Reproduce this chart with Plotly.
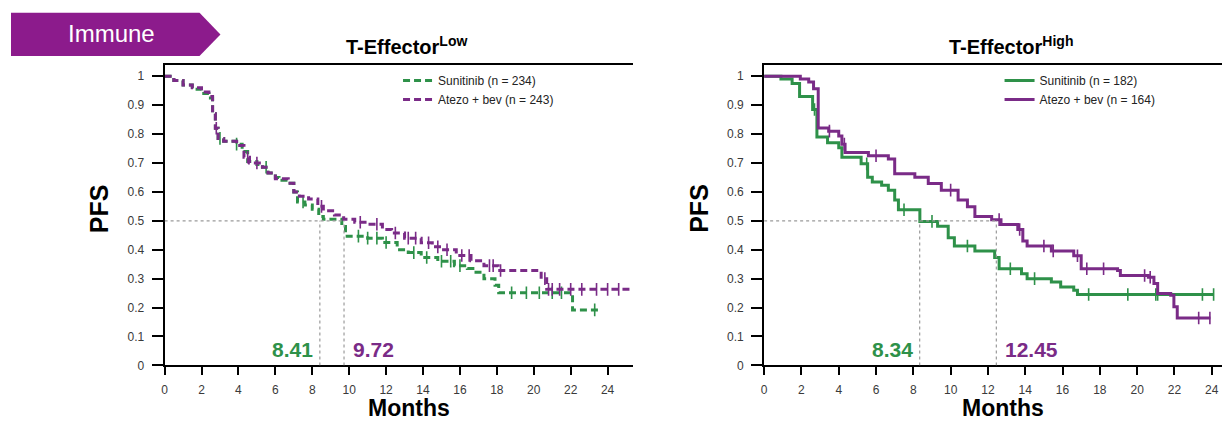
import numpy as np
import plotly.graph_objects as go

W, H = 1227, 427

# ---------------- data: T-Effector Low (left) ----------------
low_suni_t = [0, 0.5, 1.0, 1.5, 2.0, 2.4, 2.6, 2.75, 2.9, 3.2, 3.9, 4.2, 4.5, 5.0, 5.3, 5.6, 6.0,
              6.2, 6.7, 7.0, 7.2, 7.6, 8.0, 8.35, 8.6, 9.6, 9.8, 11.0, 11.8, 12.6, 13.2, 13.9,
              14.8, 15.7, 16.4, 16.7, 17.3, 17.9, 18.1, 22.1, 23.6]
low_suni_s = [1.0, 0.985, 0.97, 0.955, 0.94, 0.925, 0.87, 0.82, 0.785, 0.775, 0.765, 0.74, 0.705,
              0.695, 0.685, 0.665, 0.65, 0.64, 0.63, 0.60, 0.565, 0.555, 0.54, 0.515, 0.505, 0.48,
              0.447, 0.44, 0.425, 0.40, 0.39, 0.373, 0.36, 0.345, 0.335, 0.322, 0.30, 0.277, 0.251,
              0.192, 0.192]
low_suni_cens = [3.0, 3.9, 5.5, 7.5, 10.5, 11.0, 11.5, 12.0, 13.5, 14.2, 15.0, 15.5, 16.0, 18.8,
                 19.6, 20.3, 21.0, 21.5, 23.3]

low_atezo_t = [0, 0.5, 1.0, 1.5, 2.0, 2.4, 2.6, 2.75, 2.9, 3.2, 3.9, 4.3, 4.6, 5.3, 5.6, 6.0, 6.7,
               7.0, 7.3, 7.8, 8.3, 8.6, 9.2, 9.7, 10.3, 11.0, 11.8, 12.3, 13.0, 13.9, 14.5, 15.0,
               15.8, 16.6, 17.3, 18.07, 20.4, 20.7, 25.25]
low_atezo_s = [1.0, 0.985, 0.97, 0.96, 0.945, 0.93, 0.87, 0.82, 0.785, 0.775, 0.76, 0.72, 0.70,
               0.685, 0.665, 0.645, 0.63, 0.60, 0.585, 0.575, 0.55, 0.535, 0.52, 0.505, 0.495,
               0.488, 0.47, 0.458, 0.44, 0.424, 0.41, 0.40, 0.38, 0.362, 0.345, 0.328, 0.30,
               0.263, 0.263]
low_atezo_cens = [2.8, 4.5, 5.0, 8.5, 10.6, 11.5, 12.5, 13.2, 13.6, 14.3, 14.8, 15.3, 16.1, 16.5,
                  17.6, 17.8, 18.2, 20.6, 20.8, 21.0, 21.4, 22.0, 22.6, 23.4, 24.0, 24.6]

# ---------------- data: T-Effector High (right) ----------------
high_suni_t = [0, 0.9, 1.5, 1.9, 2.6, 2.83, 3.4, 4.0, 4.17, 5.2, 5.55, 5.8, 6.3, 6.66, 7.0, 7.2,
               8.35, 9.3, 9.87, 10.2, 11.3, 12.36, 12.6, 13.8, 14.1, 15.4, 15.9, 16.6, 16.8, 24.1]
high_suni_s = [1.0, 0.99, 0.975, 0.93, 0.885, 0.79, 0.77, 0.753, 0.72, 0.697, 0.651, 0.634, 0.623,
               0.606, 0.572, 0.538, 0.498, 0.481, 0.441, 0.413, 0.396, 0.373, 0.334, 0.317, 0.30,
               0.288, 0.271, 0.26, 0.245, 0.245]
high_suni_cens = [2.7, 5.5, 7.5, 9.0, 10.9, 13.2, 14.5, 17.4, 19.5, 21.0, 21.1, 23.5, 24.1]

high_atezo_t = [0, 1.94, 2.39, 2.65, 2.9, 3.46, 4.0, 4.17, 4.34, 5.59, 6.66, 7.0, 8.08, 8.8, 9.5,
                10.4, 10.9, 11.3, 12.2, 12.7, 13.6, 13.87, 14.1, 15.4, 16.6, 17.0, 18.95, 19.1,
                20.6, 20.9, 21.1, 21.8, 21.97, 22.15, 23.93]
high_atezo_s = [1.0, 0.99, 0.98, 0.957, 0.821, 0.81, 0.793, 0.765, 0.736, 0.725, 0.714, 0.663,
                0.651, 0.629, 0.606, 0.572, 0.549, 0.515, 0.504, 0.487, 0.47, 0.43, 0.413, 0.396,
                0.379, 0.334, 0.328, 0.311, 0.305, 0.283, 0.249, 0.243, 0.203, 0.164, 0.164]
high_atezo_cens = [3.5, 4.3, 6.0, 10.0, 12.6, 13.7, 15.0, 15.5, 16.8, 17.3, 18.2, 20.4, 20.7,
                   23.3, 23.9]

medians_low = [8.41, 9.72]
medians_high = [8.34, 12.45]
legend_low = ["Sunitinib (n = 234)", "Atezo + bev (n = 243)"]
legend_high = ["Sunitinib (n = 182)", "Atezo + bev (n = 164)"]
x_ticks = list(range(0, 25, 2))
y_ticks = [0, 0.1, 0.2, 0.3, 0.4, 0.5, 0.6, 0.7, 0.8, 0.9, 1]

GREEN = "#2e9149"
PURPLE = "#7a2b87"
FONT = "Liberation Sans, Arial, sans-serif"


def step_at(t, s, x):
    t = np.asarray(t)
    s = np.asarray(s)
    idx = np.searchsorted(t, np.asarray(x), side="right") - 1
    return s[np.clip(idx, 0, len(s) - 1)]


fig = go.Figure()

panels = [
    ("x", "y", "legend", "dash", legend_low,
     [(low_suni_t, low_suni_s, low_suni_cens, GREEN), (low_atezo_t, low_atezo_s, low_atezo_cens, PURPLE)]),
    ("x2", "y2", "legend2", "solid", legend_high,
     [(high_suni_t, high_suni_s, high_suni_cens, GREEN), (high_atezo_t, high_atezo_s, high_atezo_cens, PURPLE)]),
]

for xa, ya, lg, dash, names, curves in panels:
    for (t, s, cens, col), name in zip(curves, names):
        fig.add_trace(go.Scatter(
            x=t, y=s, mode="lines", line_shape="hv", name=name,
            line=dict(color=col, width=3, dash=("7px,4px" if dash == "dash" else "solid")),
            xaxis=xa, yaxis=ya, legend=lg, hoverinfo="skip"))
        fig.add_trace(go.Scatter(
            x=cens, y=step_at(t, s, cens), mode="markers", showlegend=False,
            marker=dict(symbol="line-ns-open", size=9, color=col, line=dict(color=col, width=1.6)),
            xaxis=xa, yaxis=ya, hoverinfo="skip"))

# pixel geometry -> paper
def px(xp):
    return xp / W

def py(yp):
    return 1 - yp / H

y_dom = [py(371.5), py(66)]
x1_dom = [px(162), px(632)]
x2_dom = [px(763), px(1222)]

axis_common = dict(showgrid=False, zeroline=False, showline=True, linecolor="black", linewidth=2,
                   ticks="outside", tickcolor="black", tickwidth=1.5,
                   tickfont=dict(family=FONT, size=12, color="#3a3a3a"))

fig.update_layout(
    xaxis=dict(domain=x1_dom, range=[0, 25.4], anchor="y", tickvals=x_ticks, ticklen=8,
               ticklabelstandoff=4, mirror=True, **axis_common),
    yaxis=dict(domain=y_dom, range=[0, 1.039], anchor="x", tickvals=y_ticks, ticklen=11,
               ticklabelstandoff=5, **axis_common),
    xaxis2=dict(domain=x2_dom, range=[0, 24.55], anchor="y2", tickvals=x_ticks, ticklen=8,
                ticklabelstandoff=4, mirror=True, **axis_common),
    yaxis2=dict(domain=y_dom, range=[0, 1.039], anchor="x2", tickvals=y_ticks, ticklen=11,
                ticklabelstandoff=5, **axis_common),
    width=W, height=H,
    margin=dict(l=0, r=0, t=0, b=0),
    paper_bgcolor="white", plot_bgcolor="white",
    font=dict(family=FONT, color="black"),
    legend=dict(x=px(396), y=py(67), xanchor="left", yanchor="top", bgcolor="rgba(0,0,0,0)",
                font=dict(family=FONT, size=12, color="#222222"), tracegroupgap=0),
    legend2=dict(x=px(999), y=py(67), xanchor="left", yanchor="top", bgcolor="rgba(0,0,0,0)",
                 font=dict(family=FONT, size=12, color="#222222"), tracegroupgap=0),
)

shapes = []
annotations = []


def note(x, y, text, size, color="black", angle=0, xanchor="center"):
    return dict(xref="paper", yref="paper", x=x, y=y, text=text, showarrow=False,
                xanchor=xanchor, yanchor="middle", textangle=angle,
                font=dict(family=FONT, size=size, color=color))


for (xa, ya, meds, xdom) in [("x", "y", medians_low, x1_dom), ("x2", "y2", medians_high, x2_dom)]:
    # reference lines at median
    shapes.append(dict(type="line", xref=xa, yref=ya, x0=0, x1=max(meds), y0=0.5, y1=0.5,
                       line=dict(color="#9a9a9a", width=1.2, dash="dot")))
    for m in meds:
        shapes.append(dict(type="line", xref=xa, yref=ya, x0=m, x1=m, y0=0, y1=0.5,
                           line=dict(color="#9a9a9a", width=1.2, dash="dot")))
    annotations.append(dict(xref=xa, yref=ya, x=meds[0], y=0.055, xanchor="right", yanchor="middle",
                            xshift=-5, text=f"<b>{meds[0]:.2f}</b>", showarrow=False,
                            font=dict(family=FONT, size=21, color=GREEN)))
    annotations.append(dict(xref=xa, yref=ya, x=meds[1], y=0.055, xanchor="left", yanchor="middle",
                            xshift=7, text=f"<b>{meds[1]:.2f}</b>", showarrow=False,
                            font=dict(family=FONT, size=21, color=PURPLE)))
    cx = (xdom[0] + xdom[1]) / 2
    annotations.append(note(cx + px(10), py(414.5), "<b>Months</b>", 23))
    annotations.append(note(xdom[0] - px(66), py(212), "<b>PFS</b>", 25, angle=-90))

annotations.append(note(px(404), py(46), "<b>T-Effector<sup>Low</sup></b>", 20))
annotations.append(note(px(1010), py(46), "<b>T-Effector<sup>High</sup></b>", 20))

# banner
shapes.append(dict(type="path", xref="paper", yref="paper",
                   path=f"M {px(8)},{py(13)} L {px(197)},{py(13)} L {px(218)},{py(35)} "
                        f"L {px(197)},{py(57)} L {px(8)},{py(57)} Z",
                   fillcolor="#8c1b8c", line=dict(width=0)))
annotations.append(note(px(109), py(34), "Immune", 24, color="white"))

fig.update_layout(shapes=shapes, annotations=annotations)
fig.write_html("out.html")
